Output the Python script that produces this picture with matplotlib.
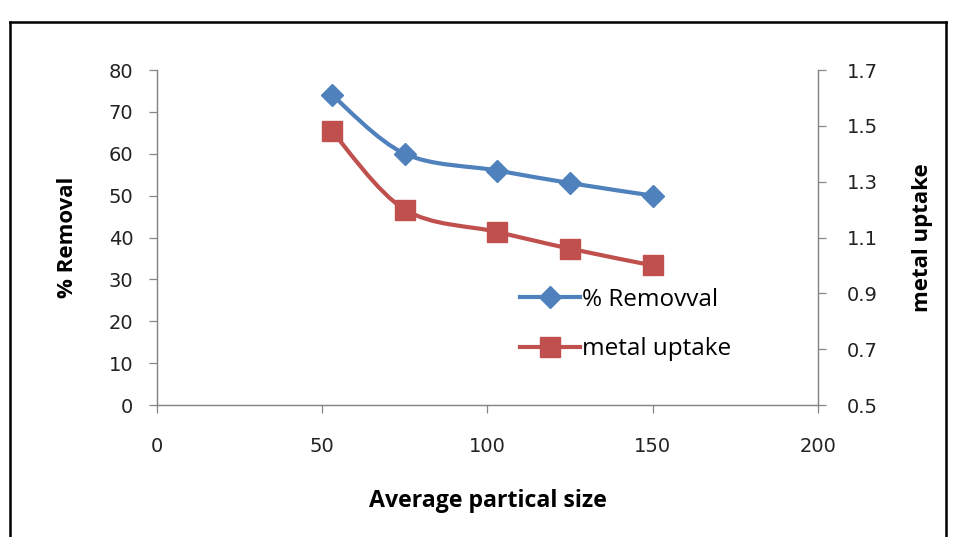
import matplotlib
matplotlib.use("Agg")
import matplotlib.pyplot as plt
from matplotlib.path import Path
from matplotlib.patches import PathPatch
from matplotlib.lines import Line2D
import numpy as np

plt.rcParams['font.family'] = ['Open Sans', 'DejaVu Sans']

sizes = [53, 75, 103, 125, 150]
removal = [74, 60, 56, 53, 50]
uptake = [1.48, 1.20, 1.12, 1.06, 1.00]
x_ticks = [0, 50, 100, 150, 200]
left_ticks = [0, 10, 20, 30, 40, 50, 60, 70, 80]
right_ticks = [0.5, 0.7, 0.9, 1.1, 1.3, 1.5, 1.7]

BLUE = '#4F81BD'
RED = '#C0504D'
GRAY = '#868686'


def smooth_path(xs, ys):
    pts = np.column_stack([xs, ys]).astype(float)
    n = len(pts)
    verts = [pts[0]]
    codes = [Path.MOVETO]
    for i in range(n - 1):
        p0 = pts[i - 1] if i > 0 else pts[i]
        p1 = pts[i]
        p2 = pts[i + 1]
        p3 = pts[i + 2] if i + 2 < n else pts[i + 1]
        c1 = p1 + (p2 - p0) / 6.0
        c2 = p2 - (p3 - p1) / 6.0
        verts += [c1, c2, p2]
        codes += [Path.CURVE4] * 3
    return Path(verts, codes)


fig = plt.figure(figsize=(9.6, 5.37), dpi=100)
ax = fig.add_axes([0.1635, 0.2458, 0.6885, 0.6238])
ax2 = ax.twinx()

ax.set_xlim(0, 200)
ax.set_ylim(0, 80)
ax2.set_ylim(0.5, 1.7)
ax.set_xticks(x_ticks)
ax.set_yticks(left_ticks)
ax2.set_yticks(right_ticks)
ax2.set_yticklabels([f"{v:.1f}" for v in right_ticks])

for a in (ax, ax2):
    for s in a.spines.values():
        s.set_color(GRAY)
        s.set_linewidth(0.9)
    a.spines['top'].set_visible(False)
    a.tick_params(colors=GRAY, labelcolor='#222222', labelsize=14, length=6, width=0.9,
                  direction='out', labelfontfamily='DejaVu Sans')
ax.tick_params(axis='x', pad=17)
ax.tick_params(axis='y', pad=11)
ax2.tick_params(axis='y', pad=15)

# blue series (left axis)
ax.add_patch(PathPatch(smooth_path(sizes, removal), facecolor='none', edgecolor=BLUE, lw=3.0, zorder=3))
ax.plot(sizes, removal, linestyle='none', marker='D', ms=11, color=BLUE, zorder=4)
# red series (right axis)
ax2.add_patch(PathPatch(smooth_path(sizes, uptake), facecolor='none', edgecolor=RED, lw=3.0, zorder=3))
ax2.plot(sizes, uptake, linestyle='none', marker='s', ms=14, color=RED, zorder=4)

ax.set_xlabel('Average partical size', fontsize=16.7, fontweight='bold', labelpad=24)
ax.set_ylabel('% Removal', fontsize=16, fontweight='bold', labelpad=22)
ax2.set_ylabel('metal uptake', fontsize=16, fontweight='bold', labelpad=24)

handles = [Line2D([], [], color=BLUE, lw=3.0, marker='D', ms=11),
           Line2D([], [], color=RED, lw=3.0, marker='s', ms=14)]
leg = ax2.legend(handles, ['% Removval', 'metal uptake'], loc='upper left',
                 bbox_to_anchor=(0.55, 0.35), frameon=False, fontsize=17.5,
                 handlelength=2.45, handletextpad=0.1, labelspacing=1.05,
                 borderaxespad=0, borderpad=0)

# outer frame
fig.add_artist(Line2D([0.0104, 0.0104], [0.0, 0.959], transform=fig.transFigure, color='black', lw=1.8))
fig.add_artist(Line2D([0.0104, 0.985], [0.959, 0.959], transform=fig.transFigure, color='black', lw=1.8))
fig.add_artist(Line2D([0.985, 0.985], [0.0, 0.959], transform=fig.transFigure, color='black', lw=1.8))

fig.savefig('out.png', dpi=100)
